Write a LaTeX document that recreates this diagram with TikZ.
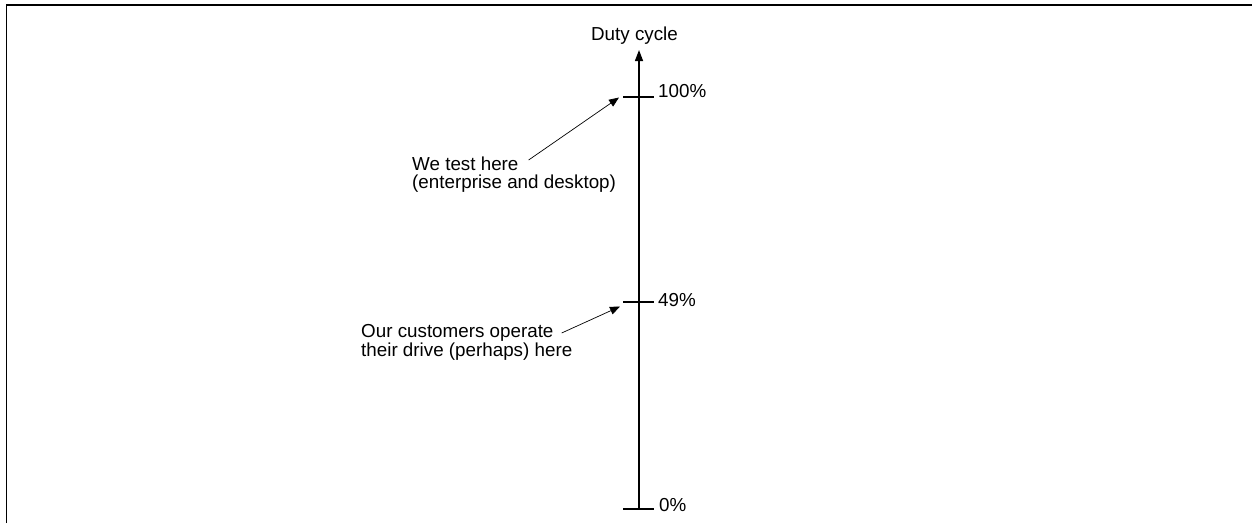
\documentclass[tikz,border=0pt]{standalone}
\usepackage{fontspec}
\setmainfont{Liberation Sans}
\usetikzlibrary{arrows.meta}
\begin{document}
\begin{tikzpicture}[x=1pt,y=-1pt,
  lbl/.style={inner sep=0pt,font=\fontsize{18.8}{18}\selectfont},
  axisline/.style={line width=1.4pt},
  tickline/.style={line width=1.1pt},
  pointer/.style={line width=0.7pt,-{Triangle[length=10pt,width=8pt]}},
  frame/.style={line width=1.5pt}]
\useasboundingbox (0,0) rectangle (1252,523);
\draw[frame] (6.5,523) -- (6.5,5) -- (1252,5);
% axis
\coordinate (a0) at (639,509);
\coordinate (atop) at (639,50);
\draw[axisline,-{Triangle[length=11pt,width=8pt]}] (a0) -- (atop);
\node[lbl,anchor=base] (title) at (634.5,40) {Duty cycle};
% ticks
\coordinate (t100w) at (623,97); \coordinate (t100e) at (654,97);
\coordinate (t49w) at (623,302); \coordinate (t49e) at (654,302);
\coordinate (t0w) at (623,509); \coordinate (t0e) at (654,509);
\draw[tickline] (t100w) -- (t100e);
\draw[tickline] (t49w) -- (t49e);
\draw[tickline] (t0w) -- (t0e);
\node[lbl,anchor=base west] (l100) at (658,97) {100\%};
\node[lbl,anchor=base west] (l49) at (658,306) {49\%};
\node[lbl,anchor=base west] (l0) at (659,511) {0\%};
% annotations
\node[lbl,anchor=base west] (w1) at (412,170) {We test here};
\node[lbl,anchor=base west] (w2) at (412,188) {(enterprise and desktop)};
\node[lbl,anchor=base west] (c1) at (361,337) {Our customers operate};
\node[lbl,anchor=base west] (c2) at (361,356) {their drive (perhaps) here};
\coordinate (p1) at (619,97.5);
\coordinate (p2) at (620,306.5);
\draw[pointer] ([xshift=10pt,yshift=10pt]w1.base east) -- (p1);
\draw[pointer] ([xshift=8pt,yshift=4pt]c1.base east) -- (p2);
\end{tikzpicture}
\end{document}
